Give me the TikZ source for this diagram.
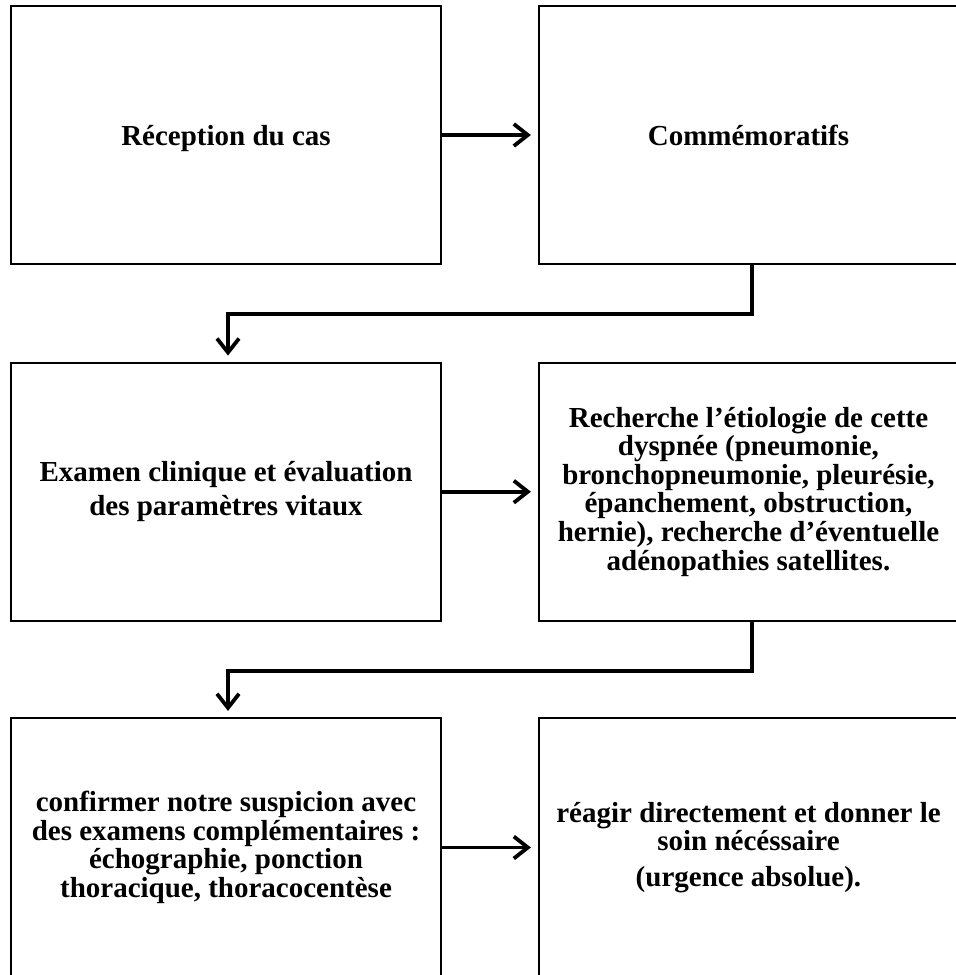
\documentclass[tikz,border=0pt]{standalone}
\usepackage{fontspec}
\setmainfont{Liberation Serif}
\usetikzlibrary{arrows.meta}
\tikzset{
  box/.style={draw=black, line width=2.2pt, rectangle, align=center, inner sep=0pt,
    font=\fontsize{29}{28.6}\selectfont\bfseries},
  oneline/.style={text height=20pt, text depth=0pt},
  leftbox/.style={box, minimum width=430pt, minimum height=258pt},
  rightbox/.style={box, minimum width=419pt, minimum height=258pt},
  conn/.style={draw=black, line width=3.8pt, -{Straight Barb[length=14pt,width=22pt]}}
}
\begin{document}
\begin{tikzpicture}[x=1pt,y=-1pt]
\useasboundingbox (0,0) rectangle (956,975);
\clip (0,0) rectangle (956,975);
% row 1
\node[leftbox, oneline] (a1) at (226,135) {Réception du cas};
\node[rightbox, oneline] (b1) at (748.5,135) {Commémoratifs};
% row 2
\node[leftbox, font=\fontsize{29}{34}\selectfont\bfseries] (a2) at (226,491.7)
  {Examen clinique et évaluation\\des paramètres vitaux};
\node[rightbox] (b2) at (748.5,491.7)
  {Recherche l’étiologie de cette\\dyspnée (pneumonie,\\bronchopneumonie, pleurésie,\\épanchement, obstruction,\\hernie), recherche d’éventuelle\\adénopathies satellites.};
% row 3
\node[leftbox, minimum height=259pt] (a3) at (226,847.5)
  {confirmer notre suspicion avec\\des examens complémentaires :\\échographie, ponction\\thoracique, thoracocentèse};
\node[rightbox, minimum height=259pt] (b3) at (748.5,847.5)
  {réagir directement et donner le\\soin nécéssaire\\[7.5pt](urgence absolue).};
% connectors
\draw[conn] (a1.east) -- ([xshift=-7pt]b1.west);
\draw[conn] (a2.east) -- ([xshift=-7pt]b2.west);
\draw[conn] (a3.east) -- ([xshift=-7pt]b3.west);
\draw[conn] ([xshift=3.5pt]b1.south) -- ++(0,49) -| ([xshift=2pt,yshift=6pt]a2.north);
\draw[conn] ([xshift=3.5pt]b2.south) -- ++(0,49) -| ([xshift=2pt,yshift=6pt]a3.north);
\end{tikzpicture}
\end{document}
